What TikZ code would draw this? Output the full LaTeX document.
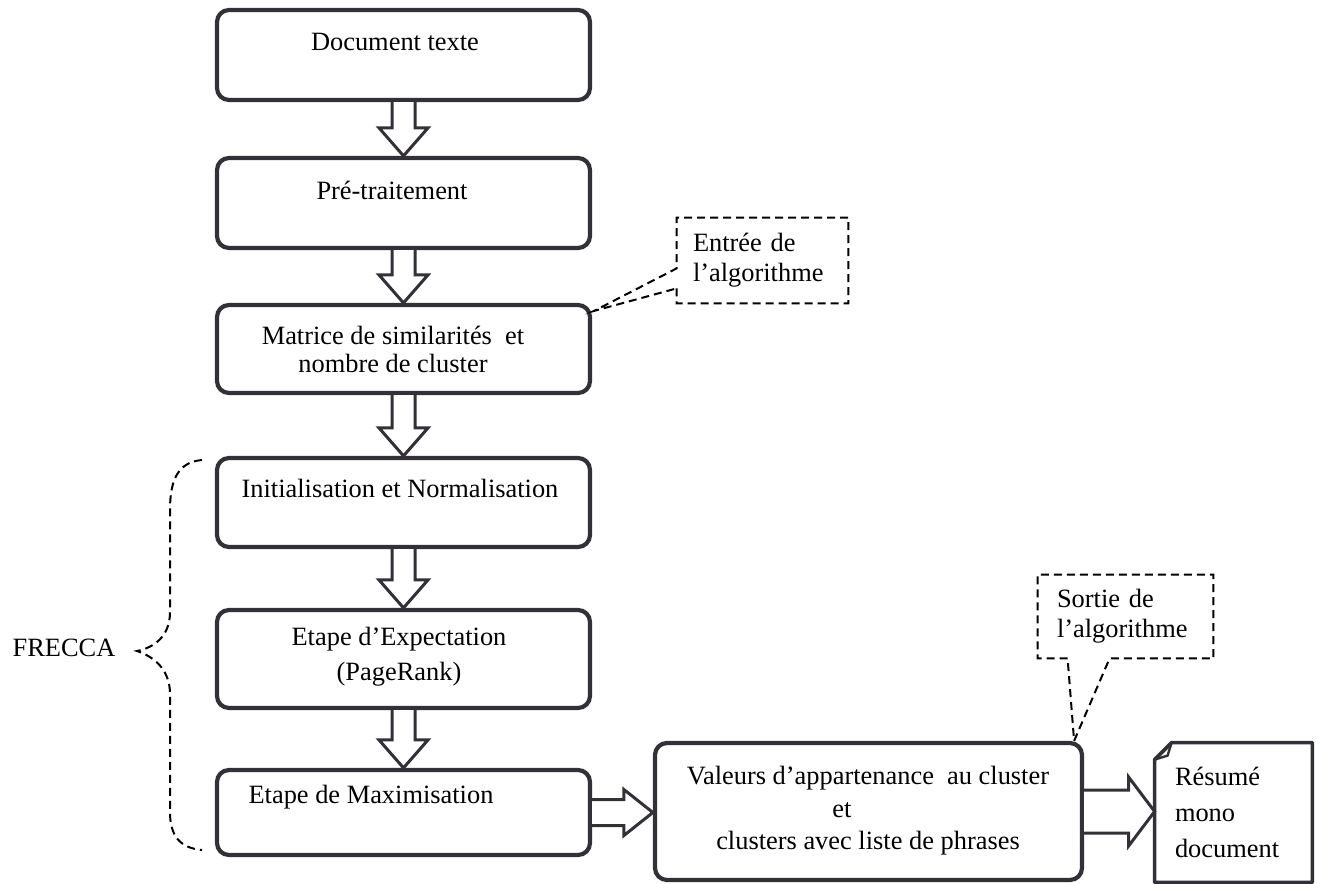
\documentclass[tikz,border=0pt]{standalone}
\usepackage{fontspec}
\setmainfont{Liberation Serif}
\usetikzlibrary{calc}
\definecolor{edge}{RGB}{52,48,56}
\tikzset{
  box/.style={draw=edge, line width=2.1pt, rounded corners=6pt, fill=white,
    inner sep=0pt, minimum width=186.5pt},
  lbl/.style={inner sep=0pt, align=center, font=\fontsize{13.2pt}{14pt}\selectfont},
  blockarrow/.style={draw=edge, line width=1.5pt, fill=white, line join=miter},
  note/.style={draw=black, line width=1pt, dash pattern=on 4pt off 2.5pt},
  notebox/.style={inner ysep=0pt, align=left, font=\fontsize{13.2pt}{15pt}\selectfont},
}
% vertical block arrow from the bottom of #1 to the top of #2
\newcommand{\vblock}[2]{%
  \draw[blockarrow] let \p1=(#1.south), \p2=(#2.north) in
    (\x1-5.75pt,\y1) -- (\x1-5.75pt,\y2+14pt) -- (\x1-12.25pt,\y2+14pt)
    -- (\x1,\y2) -- (\x1+12.25pt,\y2+14pt) -- (\x1+5.75pt,\y2+14pt)
    -- (\x1+5.75pt,\y1);}
% horizontal block arrow: from, to, shaft half width, head half width, head length
\newcommand{\hblock}[5]{%
  \draw[blockarrow] let \p1=(#1.east), \p2=(#2.west) in
    (\x1,\y1+#3) -- (\x2-#5,\y1+#3) -- (\x2-#5,\y1+#4) -- (\x2,\y1)
    -- (\x2-#5,\y1-#4) -- (\x2-#5,\y1-#3) -- (\x1,\y1-#3);}
\begin{document}
\begin{tikzpicture}[x=0.5pt,y=-0.5pt]
\useasboundingbox (0,0) rectangle (1319,884);
\fill[white] (0,0) rectangle (1319,884);

% main column of steps
\node[box, minimum height=45pt]   (b1) at (403.5,55)    {};
\node[box, minimum height=45pt]   (b2) at (403.5,203)   {};
\node[box, minimum height=44pt]   (b3) at (403.5,349)   {};
\node[box, minimum height=44.5pt] (b4) at (403.5,502.5) {};
\node[box, minimum height=49pt]   (b5) at (403.5,659)   {};
\node[box, minimum height=42.5pt] (b6) at (403.5,812.5) {};

\node[lbl] (t1) at (395,42)  {Document texte};
\node[lbl] (t2) at (392,190) {Pré-traitement};
\node[lbl] (t3) at (393,349) {Matrice de similarités\ \ et\\nombre de cluster};
\node[lbl] (t4) at (400,488) {Initialisation et Normalisation};
\node[lbl, font=\fontsize{13.2pt}{17.5pt}\selectfont] (t5) at (399,657)
  {Etape d’Expectation\\(PageRank)};
\node[lbl] (t6) at (371,797) {Etape de Maximisation};

% output box and summary document
\node[box, minimum width=213.5pt, minimum height=68.5pt] (out) at (868.5,811.5) {};
\node[lbl, font=\fontsize{13.2pt}{16.25pt}\selectfont] (t7) at (868,811)
  {Valeurs d’appartenance\ \ au cluster\\et\rule{26pt}{0pt}\\clusters avec liste de phrases};

\node[inner xsep=10pt, inner ysep=0pt, text width=58.5pt, minimum height=69.5pt,
  align=left, font=\fontsize{13.2pt}{18pt}\selectfont] (doc) at (1233.5,812.5)
  {Résumé\\mono\\document};
\draw[edge, line width=1.8pt, line join=round]
  ($(doc.north west)+(0,17)$) -- ($(doc.north west)+(17,0)$) -- (doc.north east)
  -- (doc.south east) -- (doc.south west) -- cycle;
\draw[edge, line width=1.2pt]
  ($(doc.north west)+(0,17)$) -- ($(doc.north west)+(13,13)$) -- ($(doc.north west)+(17,0)$);

% block arrows between the steps
\vblock{b1}{b2}
\vblock{b2}{b3}
\vblock{b3}{b4}
\vblock{b4}{b5}
\vblock{b5}{b6}
\hblock{b6}{out}{6.5pt}{11.5pt}{14.5pt}
\hblock{out}{doc}{10.75pt}{17.25pt}{13pt}

% callouts
\node[notebox, inner xsep=8pt, text width=69.5pt, minimum height=42.5pt] (inA)
  at (762.5,260.5) {Entrée de\\l’algorithme};
\coordinate (tipA) at ($(b3.north east)+(2,8)$);
\draw[note] ($(inA.south west)+(0,-15)$) -- (inA.south west) -- (inA.south east)
  -- (inA.north east) -- (inA.north west) -- ($(inA.south west)+(0,-35)$)
  -- (tipA) -- cycle;

\node[notebox, inner xsep=9.5pt, text width=68.5pt, minimum height=41.5pt] (outA)
  at (1125.5,616.5) {Sortie de\\l’algorithme};
\coordinate (tipB) at ($(out.north east)+(-10,0)$);
\draw[note] ($(outA.south west)+(30,0)$) -- (outA.south west) -- (outA.north west)
  -- (outA.north east) -- (outA.south east) -- ($(outA.south west)+(72,0)$)
  -- (tipB) -- cycle;

% brace grouping the FRECCA steps
\node[lbl] (frecca) at (64,648) {FRECCA};
\draw[note]
  (202,460) .. controls (178,462) and (170,480) .. (170,510)
  -- (170,612) .. controls (170,638) and (152,648) .. (137,651)
  .. controls (152,656) and (170,668) .. (170,694)
  -- (170,812) .. controls (170,836) and (180,848) .. (202,850);
\end{tikzpicture}
\end{document}
